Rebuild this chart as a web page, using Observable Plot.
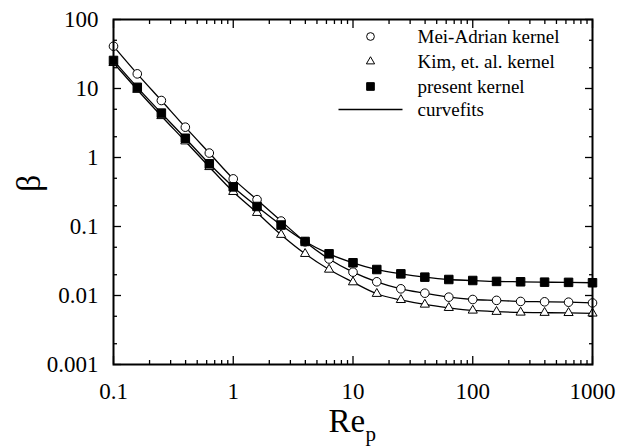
<!DOCTYPE html>
<html><head><meta charset="utf-8">
<script src="https://cdn.jsdelivr.net/npm/d3@7"></script>
<script src="https://cdn.jsdelivr.net/npm/@observablehq/plot@0.6"></script>
<style>html,body{margin:0;padding:0;background:#fff}</style>
</head><body><div id="chart"></div>
<script>
// Data
const rep = [0.1, 0.158, 0.251, 0.398, 0.631, 1, 1.58, 2.51, 3.98, 6.31, 10, 15.8, 25.1, 39.8, 63.1, 100, 158, 251, 398, 631, 1000];
const betaMeiAdrian = [41, 16.3, 6.7, 2.75, 1.16, 0.49, 0.245, 0.12, 0.06, 0.0338, 0.0218, 0.0158, 0.0125, 0.0108, 0.00946, 0.00875, 0.0085, 0.0082, 0.0081, 0.0080, 0.0078];
const betaKim = [23.5, 9.6, 4.0, 1.72, 0.73, 0.318, 0.158, 0.076, 0.0402, 0.0238, 0.0156, 0.0106, 0.00864, 0.00741, 0.00663, 0.00607, 0.00582, 0.00568, 0.00563, 0.0056, 0.0055];
const betaPresent = [25.5, 10.4, 4.4, 1.9, 0.81, 0.375, 0.195, 0.105, 0.0607, 0.0402, 0.0298, 0.0238, 0.0206, 0.01845, 0.01706, 0.0165, 0.016, 0.0158, 0.0156, 0.0155, 0.0153];

const seriesNames = ["Mei-Adrian kernel", "Kim, et. al. kernel", "present kernel"];
const legendLabels = ["Mei-Adrian kernel", "Kim, et. al. kernel", "present kernel", "curvefits"];

const xTicks = [0.1, 1, 10, 100, 1000];
const xTickLabels = ["0.1", "1", "10", "100", "1000"];
const yTicks = [0.001, 0.01, 0.1, 1, 10, 100];
const yTickLabels = ["0.001", "0.01", "0.1", "1", "10", "100"];
const xMinorMultipliers = [2, 3, 4, 5, 6, 7, 8, 9];
const yMinorMultipliers = [2, 5];

const xMinor = xTicks.slice(0, -1).flatMap(d => xMinorMultipliers.map(m => d * m));
const yMinor = yTicks.slice(0, -1).flatMap(d => yMinorMultipliers.map(m => d * m));

const valuesBySeries = [betaMeiAdrian, betaKim, betaPresent];
const table = valuesBySeries.flatMap((vals, s) => rep.map((r, i) => ({series: seriesNames[s], re: r, beta: vals[i]})));

const styleBySeries = {
  "Mei-Adrian kernel": {symbol: "circle", fill: "white", stroke: "black", r: 4.3},
  "Kim, et. al. kernel": {symbol: "triangle", fill: "white", stroke: "black", r: 3.4},
  "present kernel": {symbol: "square", fill: "black", stroke: "black", r: 4.8}
};

const FONT = "'Liberation Serif', 'Times New Roman', serif";
const lineSymbol = {draw(ctx) { ctx.moveTo(-32, 0); ctx.lineTo(32, 0); }};

const marks = [];
// curvefits
for (const name of seriesNames) {
  marks.push(Plot.line(table.filter(d => d.series === name), {x: "re", y: "beta", curve: "monotone-x", stroke: "black", strokeWidth: 1.3}));
}
// markers
for (const name of seriesNames) {
  const st = styleBySeries[name];
  marks.push(Plot.dot(table.filter(d => d.series === name), {x: "re", y: "beta", symbol: () => st.symbol, r: st.r, fill: st.fill, stroke: st.stroke, strokeWidth: 1}));
}
// ticks (inward) on all four sides
const tickOpts = {tickFormat: () => "", label: null, strokeWidth: 1.3, stroke: "black"};
marks.push(
  Plot.axisX({...tickOpts, anchor: "bottom", ticks: xTicks, tickSize: -8}),
  Plot.axisX({...tickOpts, anchor: "bottom", ticks: xMinor, tickSize: -4}),
  Plot.axisX({...tickOpts, anchor: "top", ticks: xTicks, tickSize: -8}),
  Plot.axisX({...tickOpts, anchor: "top", ticks: xMinor, tickSize: -4}),
  Plot.axisY({...tickOpts, anchor: "left", ticks: yTicks, tickSize: -8}),
  Plot.axisY({...tickOpts, anchor: "left", ticks: yMinor, tickSize: -4}),
  Plot.axisY({...tickOpts, anchor: "right", ticks: yTicks, tickSize: -8}),
  Plot.axisY({...tickOpts, anchor: "right", ticks: yMinor, tickSize: -4}),
  Plot.frame({stroke: "black", strokeWidth: 2})
);
// tick labels
marks.push(
  Plot.text(xTicks, {x: d => d, text: (d, i) => xTickLabels[i], frameAnchor: "bottom", dy: 27, lineAnchor: "middle", fontSize: 23, fontFamily: FONT, fill: "black"}),
  Plot.text(yTicks, {y: d => d, text: (d, i) => yTickLabels[i], frameAnchor: "left", dx: -15, textAnchor: "end", lineAnchor: "middle", fontSize: 23, fontFamily: FONT, fill: "black"})
);
// axis titles
marks.push(
  Plot.text(["β"], {frameAnchor: "left", dx: -84, rotate: -90, fontSize: 34, fontFamily: FONT, lineAnchor: "middle", fill: "black"}),
  Plot.text(["Re"], {frameAnchor: "bottom", dx: -24.5, dy: 57, textAnchor: "start", lineAnchor: "middle", fontSize: 33, fontFamily: FONT, fill: "black"}),
  Plot.text(["p"], {frameAnchor: "bottom", dx: 12.5, dy: 70, textAnchor: "start", lineAnchor: "middle", fontSize: 21, fontFamily: FONT, fill: "black"})
);
// legend
const rowDy = [17, 42, 67, 90];
seriesNames.forEach((name, i) => {
  const st = styleBySeries[name];
  marks.push(Plot.dot([name], {frameAnchor: "top-left", dx: 257, dy: rowDy[i], symbol: st.symbol, r: st.r * 0.9, fill: st.fill, stroke: st.stroke, strokeWidth: 1}));
});
marks.push(Plot.dot(["curvefits"], {frameAnchor: "top-left", dx: 257, dy: rowDy[3], symbol: lineSymbol, stroke: "black", strokeWidth: 1.3}));
legendLabels.forEach((lab, i) => {
  marks.push(Plot.text([lab], {frameAnchor: "top-left", dx: 304, dy: rowDy[i], textAnchor: "start", lineAnchor: "middle", fontSize: 19, fontFamily: FONT, fill: "black"}));
});

const chart = Plot.plot({
  width: 621,
  height: 447,
  marginLeft: 113,
  marginRight: 29,
  marginTop: 19,
  marginBottom: 83,
  style: {background: "white", fontFamily: FONT, color: "black"},
  x: {type: "log", domain: [0.1, 1000]},
  y: {type: "log", domain: [0.001, 100]},
  marks
});
document.getElementById("chart").append(chart);
</script>
</body></html>
